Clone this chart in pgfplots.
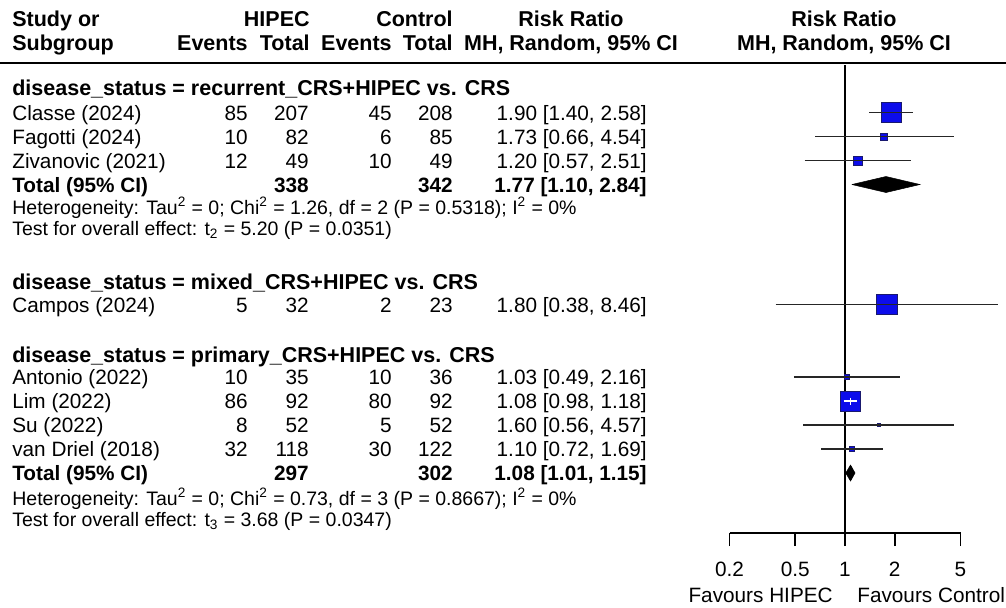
\documentclass[border=0pt]{standalone}
\usepackage{pgfplots}
\pgfplotsset{compat=1.18}
\usepackage{fontspec}
\setmainfont{Liberation Sans}
\definecolor{sqfill}{RGB}{12,12,235}
\definecolor{sqdraw}{RGB}{25,25,110}
\tikzset{
 R/.style={font=\fontsize{12.45}{14}\selectfont, inner sep=0pt},
 B/.style={font=\fontsize{12.9}{14}\selectfont\bfseries, inner sep=0pt},
 TB/.style={font=\fontsize{12.45}{14}\selectfont\bfseries, inner sep=0pt},
 S/.style={font=\fontsize{11.7}{13}\selectfont, inner sep=0pt}}
\newcommand{\srow}[7]{%
 \node[R,anchor=base west] at (12,#1) {#2};
 \node[R,anchor=base east] at (248,#1) {#3};
 \node[R,anchor=base east] at (309,#1) {#4};
 \node[R,anchor=base east] at (392,#1) {#5};
 \node[R,anchor=base east] at (453,#1) {#6};
 \node[R,anchor=base east] at (647,#1) {#7};}
\newcommand{\trow}[4]{%
 \node[TB,anchor=base west] at (12,#1) {Total (95\% CI)};
 \node[TB,anchor=base east] at (309,#1) {#2};
 \node[TB,anchor=base east] at (453,#1) {#3};
 \node[TB,anchor=base east] at (647,#1) {#4};}
\pgfplotsset{
 ci/.style={black!85, line width=1pt},
 sq/.style={only marks, mark=square*, mark options={fill=sqfill, draw=sqdraw, line width=0.5pt}}}
\begin{document}
\begin{tikzpicture}
\useasboundingbox (0,0) rectangle (603.6pt,-364.2pt);
\begin{scope}[x=0.6pt,y=-0.6pt]
% header
\node[B,anchor=base west] at (12,26) {Study or};
\node[B,anchor=base west] at (12,50.5) {Subgroup};
\node[B,anchor=base east] at (310,26) {HIPEC};
\node[B,anchor=base east] at (248,50.5) {Events};
\node[B,anchor=base east] at (310,50.5) {Total};
\node[B,anchor=base east] at (453,26) {Control};
\node[B,anchor=base east] at (392,50.5) {Events};
\node[B,anchor=base east] at (453,50.5) {Total};
\node[B,anchor=base] at (571,26) {Risk Ratio};
\node[B,anchor=base] at (571,50.5) {MH, Random, 95\% CI};
\node[B,anchor=base] at (844,26) {Risk Ratio};
\node[B,anchor=base] at (844,50.5) {MH, Random, 95\% CI};
\draw[line width=0.9pt] (0,63) -- (1006,63);
% group 1
\node[B,anchor=base west] at (12,95.7) {disease\_status = recurrent\_CRS+HIPEC vs. CRS};
\srow{120}{Classe (2024)}{85}{207}{45}{208}{1.90 [1.40, 2.58]}
\srow{144}{Fagotti (2024)}{10}{82}{6}{85}{1.73 [0.66, 4.54]}
\srow{168}{Zivanovic (2021)}{12}{49}{10}{49}{1.20 [0.57, 2.51]}
\trow{192}{338}{342}{1.77 [1.10, 2.84]}
\node[S,anchor=base west] at (12,214) {Heterogeneity: Tau\textsuperscript{2} = 0; Chi\textsuperscript{2} = 1.26, df = 2 (P = 0.5318); I\textsuperscript{2} = 0\%};
\node[S,anchor=base west] at (12,235) {Test for overall effect: t\textsubscript{2} = 5.20 (P = 0.0351)};
% group 2
\node[B,anchor=base west] at (12,289.7) {disease\_status = mixed\_CRS+HIPEC vs. CRS};
\srow{312}{Campos (2024)}{5}{32}{2}{23}{1.80 [0.38, 8.46]}
% group 3
\node[B,anchor=base west] at (12,362.7) {disease\_status = primary\_CRS+HIPEC vs. CRS};
\srow{384.4}{Antonio (2022)}{10}{35}{10}{36}{1.03 [0.49, 2.16]}
\srow{408.4}{Lim (2022)}{86}{92}{80}{92}{1.08 [0.98, 1.18]}
\srow{432.4}{Su (2022)}{8}{52}{5}{52}{1.60 [0.56, 4.57]}
\srow{456.4}{van Driel (2018)}{32}{118}{30}{122}{1.10 [0.72, 1.69]}
\trow{480.4}{297}{302}{1.08 [1.01, 1.15]}
\node[S,anchor=base west] at (12,505) {Heterogeneity: Tau\textsuperscript{2} = 0; Chi\textsuperscript{2} = 0.73, df = 3 (P = 0.8667); I\textsuperscript{2} = 0\%};
\node[S,anchor=base west] at (12,526) {Test for overall effect: t\textsubscript{3} = 3.68 (P = 0.0347)};
% bottom labels
\node[R,anchor=base east] at (833,602.5) {Favours HIPEC};
\node[R,anchor=base west] at (857,602.5) {Favours Control};
\end{scope}
\begin{axis}[at={(437.7pt,-319.8pt)}, anchor=south west, scale only axis,
 width=138.6pt, height=282pt, xmode=log, xmin=0.2, xmax=5, ymin=-533, ymax=-63,
 axis x line=bottom, axis y line=none, clip=false, clip marker paths=true,
 xtick={0.2,0.5,1,2,5}, minor xtick={},
 xticklabels={\mbox{0.2},\mbox{0.5},\mbox{1},\mbox{2},\mbox{5}},
 tick align=outside, major tick length=7.8pt,
 x axis line style={-, line width=1pt},
 every tick/.style={black, line width=1pt},
 xticklabel style={font=\fontsize{12.45}{14}\selectfont, anchor=base, inner sep=0pt, yshift=-18.5pt}]
% line of no effect
\addplot[black, line width=1.2pt] coordinates {(1,-65) (1,-533)};
% group 1
\addplot[sq, mark size=6pt] coordinates {(1.90,-112.5)};
\addplot[ci] coordinates {(1.40,-112.5) (2.58,-112.5)};
\addplot[sq, mark size=2.1pt] coordinates {(1.73,-136.5)};
\addplot[ci] coordinates {(0.66,-136.5) (4.54,-136.5)};
\addplot[sq, mark size=2.7pt] coordinates {(1.20,-160.5)};
\addplot[ci] coordinates {(0.57,-160.5) (2.51,-160.5)};
\addplot[fill=black, draw=black, line width=0.3pt] coordinates {(1.10,-184.5) (1.77,-176.5) (2.84,-184.5) (1.77,-192.5) (1.10,-184.5)};
% group 2
\addplot[sq, mark size=6.2pt] coordinates {(1.80,-304.5)};
\addplot[ci] coordinates {(0.38,-304.5) (8.46,-304.5)};
% group 3
\addplot[sq, mark size=1.5pt] coordinates {(1.03,-377)};
\addplot[ci] coordinates {(0.49,-377) (2.16,-377)};
\addplot[sq, mark size=6pt] coordinates {(1.08,-401)};
\addplot[white, line width=1pt] coordinates {(0.98,-401) (1.18,-401)};
\addplot[white, line width=1pt] coordinates {(1.08,-397.5) (1.08,-404.5)};
\addplot[sq, mark size=0.9pt] coordinates {(1.60,-425)};
\addplot[ci] coordinates {(0.56,-425) (4.57,-425)};
\addplot[sq, mark size=1.6pt] coordinates {(1.10,-449)};
\addplot[ci] coordinates {(0.72,-449) (1.69,-449)};
\addplot[fill=black, draw=black, line width=0.3pt] coordinates {(1.01,-473) (1.08,-465) (1.15,-473) (1.08,-481) (1.01,-473)};
\end{axis}
\end{tikzpicture}
\end{document}
